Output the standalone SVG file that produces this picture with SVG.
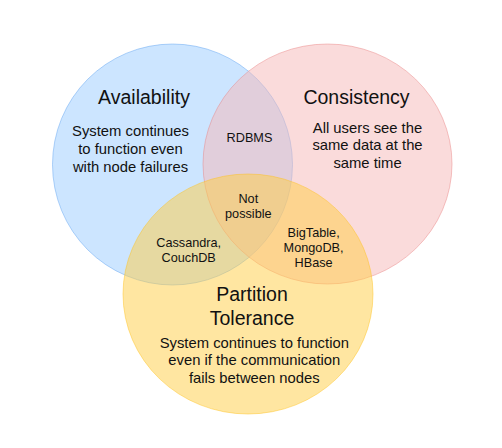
<svg xmlns="http://www.w3.org/2000/svg" width="502" height="448" viewBox="0 0 502 448">
  <style>
    .set { fill-opacity: 0.5; stroke-opacity: 0.45; stroke-width: 1; }
    .avail { fill: #99ccff; stroke: #5aa0f0; }
    .consist { fill: #f6b8b8; stroke: #e88080; }
    .part { fill: #ffcd44; stroke: #ffc21a; }
    text { font-family: "Liberation Sans", Arial, sans-serif; fill: #111; text-anchor: middle; }
    .title { font-size: 19.5px; }
    .body { font-size: 14.8px; }
    .small { font-size: 12.7px; }
  </style>
  <rect width="502" height="448" fill="#ffffff"/>

  <!-- three overlapping sets -->
  <g id="availability">
    <ellipse class="set avail" cx="172.5" cy="164.5" rx="120" ry="120.5"/>
    <text class="title" x="144" y="104">Availability</text>
    <text class="body" x="130.5" y="136">System continues</text>
    <text class="body" x="130.5" y="154">to function even</text>
    <text class="body" x="130.5" y="171.7">with node failures</text>
  </g>

  <g id="consistency">
    <ellipse class="set consist" cx="327.5" cy="164" rx="124.5" ry="120"/>
    <text class="title" x="356.5" y="104.3">Consistency</text>
    <text class="body" x="367.5" y="132.7">All users see the</text>
    <text class="body" x="367.5" y="150">same data at the</text>
    <text class="body" x="367.5" y="167.7">same time</text>
  </g>

  <g id="partition-tolerance">
    <ellipse class="set part" cx="248" cy="294" rx="125" ry="120"/>
    <text class="title" x="252" y="301">Partition</text>
    <text class="title" x="252" y="325">Tolerance</text>
    <text class="body" x="254.3" y="347.7">System continues to function</text>
    <text class="body" x="254.3" y="365">even if the communication</text>
    <text class="body" x="254.3" y="382.7">fails between nodes</text>
  </g>

  <!-- overlap labels -->
  <g id="overlap-ac">
    <text class="small" x="249.5" y="141.7">RDBMS</text>
  </g>
  <g id="overlap-acp">
    <text class="small" x="248.3" y="203">Not</text>
    <text class="small" x="248.3" y="217.7">possible</text>
  </g>
  <g id="overlap-cp">
    <text class="small" x="313.6" y="236.7">BigTable,</text>
    <text class="small" x="313.6" y="251.7">MongoDB,</text>
    <text class="small" x="313.6" y="266.7">HBase</text>
  </g>
  <g id="overlap-ap">
    <text class="small" x="188.7" y="246.7">Cassandra,</text>
    <text class="small" x="188.7" y="261.7">CouchDB</text>
  </g>

  <g id="connectors"/>
</svg>
